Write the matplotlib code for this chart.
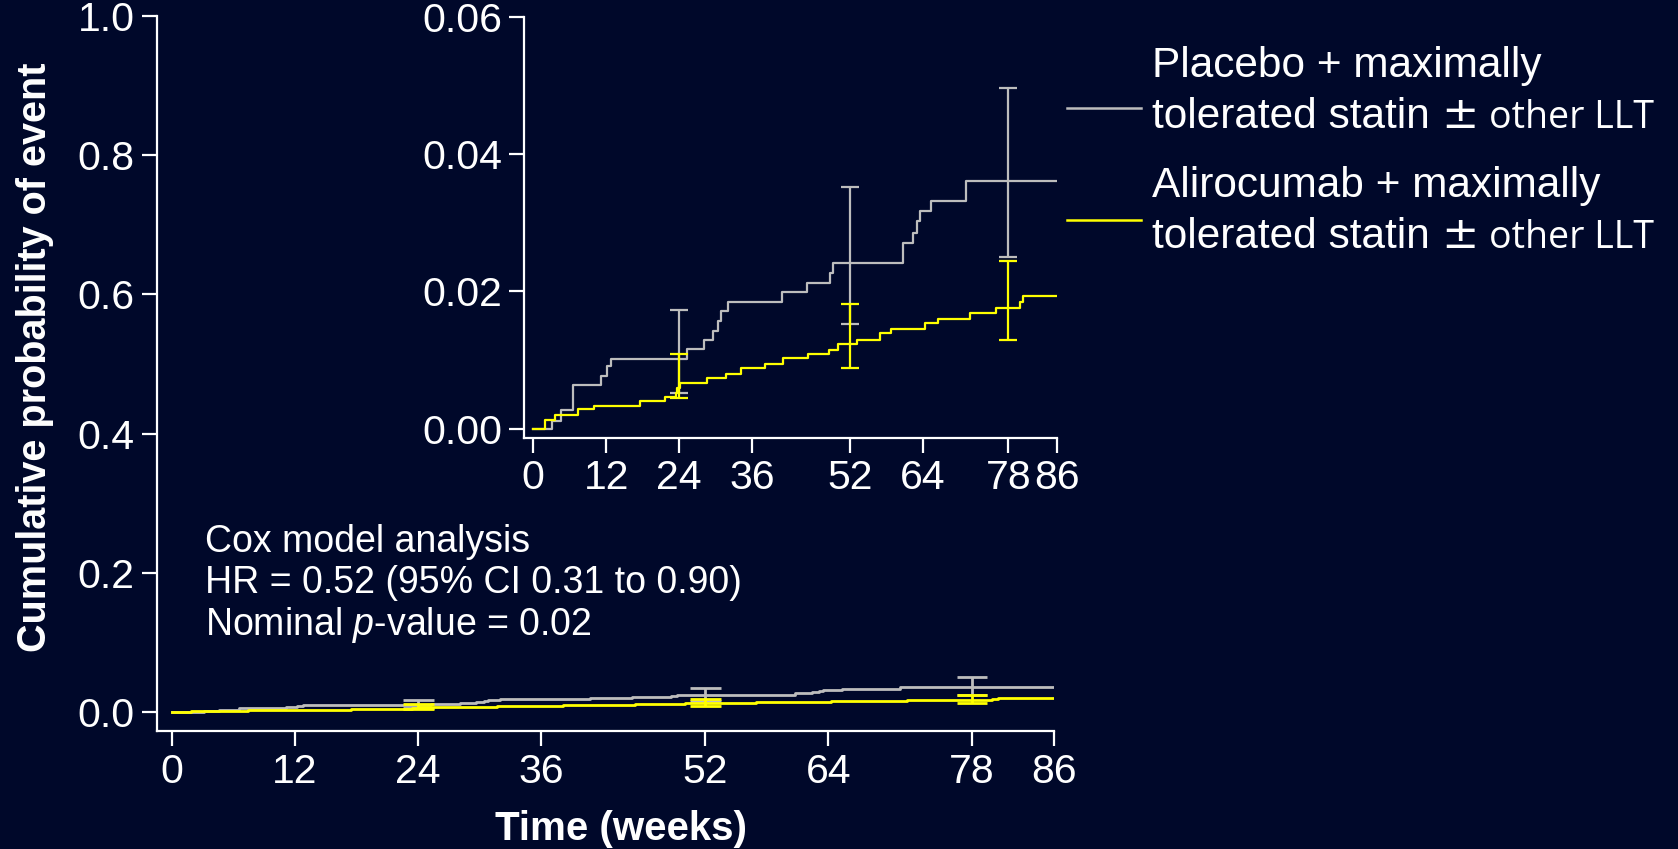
import numpy as np
import matplotlib
matplotlib.use('Agg')
from matplotlib import pyplot as plt
from matplotlib.lines import Line2D
from matplotlib.ticker import FormatStrFormatter

plt.rcParams['font.family'] = ['Liberation Sans', 'DejaVu Sans']
plt.rcParams['mathtext.fontset'] = 'custom'
plt.rcParams['mathtext.rm'] = 'Liberation Sans'
plt.rcParams['mathtext.it'] = 'Liberation Sans:italic'

# cumulative probability of event (step curves), time in weeks
placebo_weeks = [0, 3.1, 4.6, 6.5, 11.1, 12.2, 12.8, 25.3, 28.1, 29.6, 30.4, 30.8, 32.0,
                 40.8, 44.9, 48.7, 49.2, 60.7, 62.4, 63.1, 63.5, 65.3, 71.0, 86]
placebo_prob = [0, 0.0012, 0.0027, 0.0064, 0.0077, 0.0091, 0.0102, 0.0116, 0.0130, 0.0143, 0.0157, 0.0171, 0.0184,
                0.0199, 0.0213, 0.0227, 0.0242, 0.0271, 0.0285, 0.0302, 0.0317, 0.0331, 0.0361, 0.0361]

alirocumab_weeks = [0, 1.9, 3.6, 7.4, 10.0, 17.5, 21.6, 23.4, 23.7, 24.1, 28.5, 31.7, 34.2, 38.1,
                    41.0, 45.1, 48.6, 50.0, 53.1, 56.9, 58.7, 64.3, 66.4, 71.7, 76.0, 80.0, 80.5, 86]
alirocumab_prob = [0, 0.0013, 0.0021, 0.0029, 0.0033, 0.0041, 0.0046, 0.0053, 0.0060, 0.0067, 0.0074, 0.0080,
                   0.0089, 0.0095, 0.0103, 0.0109, 0.0115, 0.0124, 0.0130, 0.0139, 0.0146, 0.0154, 0.0160,
                   0.0169, 0.0176, 0.0185, 0.0194, 0.0194]

# 95% CI at selected visits
ci_weeks = [24, 52, 78]
placebo_lo = [0.0052, 0.0152, 0.0250]
placebo_hi = [0.0173, 0.0352, 0.0496]
alirocumab_lo = [0.0045, 0.0088, 0.0129]
alirocumab_hi = [0.0109, 0.0182, 0.0245]

week_ticks = [0, 12, 24, 36, 52, 64, 78, 86]
main_yticks = [0.0, 0.2, 0.4, 0.6, 0.8, 1.0]
inset_yticks = [0.00, 0.02, 0.04, 0.06]

placebo_label = 'Placebo + maximally'
alirocumab_label = 'Alirocumab + maximally'
label_tail = 'tolerated statin'
label_pm = '\u00b1'
label_llt = 'other LLT'
cox_lines = ['Cox model analysis',
             'HR = 0.52 (95% CI 0.31 to 0.90)',
             'Nominal $\\mathit{p}$-value = 0.02']

bg = '#00082a'
grey = '#bdbdbd'
yellow = '#ffff00'
W, H = 1678, 849


def fx(x):
    return x / W


def fy(y):
    return 1 - y / H


def draw_curves(ax, lw, cap_w):
    ax.step(placebo_weeks, placebo_prob, where='post', color=grey, lw=lw)
    ax.vlines(ci_weeks, placebo_lo, placebo_hi, color=grey, lw=lw)
    for lim in (placebo_lo, placebo_hi):
        ax.hlines(lim, np.array(ci_weeks) - cap_w, np.array(ci_weeks) + cap_w, color=grey, lw=lw)
    ax.step(alirocumab_weeks, alirocumab_prob, where='post', color=yellow, lw=lw)
    ax.vlines(ci_weeks, alirocumab_lo, alirocumab_hi, color=yellow, lw=lw)
    for lim in (alirocumab_lo, alirocumab_hi):
        ax.hlines(lim, np.array(ci_weeks) - cap_w, np.array(ci_weeks) + cap_w, color=yellow, lw=lw)


def style_axes(ax, fmt, tick_len):
    ax.set_facecolor('none')
    for s in ('top', 'right'):
        ax.spines[s].set_visible(False)
    for s in ('left', 'bottom'):
        ax.spines[s].set_color('white')
        ax.spines[s].set_linewidth(1.6)
    ax.tick_params(colors='white', labelcolor='white', labelsize=29.5, width=1.6,
                   length=tick_len, pad=5)
    ax.set_xticks(week_ticks)
    ax.yaxis.set_major_formatter(FormatStrFormatter(fmt))


fig = plt.figure(figsize=(W / 100, H / 100), dpi=100, facecolor=bg)

# full-scale plot
ax = fig.add_axes([fx(157), fy(731), fx(1054 - 157), (731 - 16) / H])
draw_curves(ax, 2.0, 1.5)
ax.set_xlim(-1.46, 86)
ax.set_ylim(-0.0273, 1.0)
ax.set_yticks(main_yticks)
style_axes(ax, '%.1f', 11)

# zoomed inset
axi = fig.add_axes([fx(524), fy(437.7), fx(1057 - 524), (437.7 - 16.5) / H])
draw_curves(axi, 1.6, 1.5)
axi.set_xlim(-1.48, 86)
axi.set_ylim(-0.00127, 0.06)
axi.set_yticks(inset_yticks)
style_axes(axi, '%.2f', 10.5)

fig.text(fx(35), fy(357), 'Cumulative probability of event', rotation=90, color='white',
         fontsize=28.5, fontweight='bold', ha='center', va='center')
fig.text(fx(621), fy(840), 'Time (weeks)', color='white', fontsize=29, fontweight='bold',
         ha='center', va='baseline')

for line, base in zip(cox_lines, [552, 593, 635]):
    fig.text(fx(205), fy(base), line, color='white', fontsize=27, va='baseline')

# legend
fig.canvas.draw()
renderer = fig.canvas.get_renderer()
for label, color, y_line, y1, y2 in [(placebo_label, grey, 108, 77, 128),
                                      (alirocumab_label, yellow, 220, 197, 248)]:
    fig.add_artist(Line2D([fx(1067), fx(1141)], [fy(y_line)] * 2, color=color, lw=1.8))
    fig.text(fx(1152), fy(y1), label, color='white', fontsize=30.5, va='baseline')
    t = fig.text(fx(1152), fy(y2), label_tail, color='white', fontsize=30.5, va='baseline')
    x_end = t.get_window_extent(renderer=renderer).x1
    pm = fig.text(fx(x_end + 12), fy(y2), label_pm, color='white', fontsize=32,
                  family=['DejaVu Sans'], va='baseline')
    x_end = pm.get_window_extent(renderer=renderer).x1
    fig.text(fx(x_end + 10), fy(y2), label_llt, color='white', fontsize=27,
             family=['Open Sans', 'DejaVu Sans'], va='baseline')

fig.savefig('out.png', dpi=100, facecolor=bg)
